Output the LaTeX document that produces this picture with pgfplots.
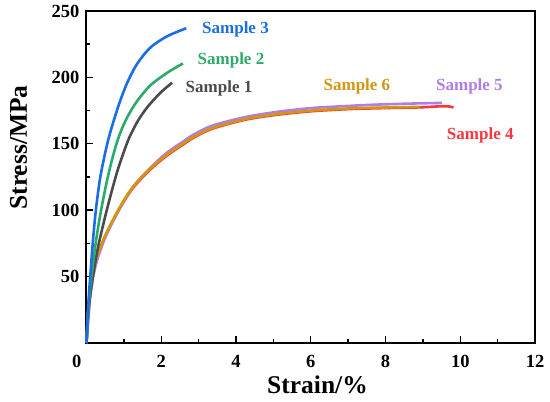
\documentclass[border=0pt]{standalone}
\usepackage{fontspec}
\setmainfont{Liberation Serif}
\usepackage{pgfplots}
\pgfplotsset{compat=1.18}
\definecolor{cblue}{RGB}{25,110,225}
\definecolor{cgreen}{RGB}{45,170,105}
\definecolor{cgray}{RGB}{75,75,75}
\definecolor{cred}{RGB}{245,55,65}
\definecolor{cpurple}{RGB}{175,125,230}
\definecolor{corange}{RGB}{210,150,15}
\newcommand{\mytickfnt}{\fontsize{18.5bp}{21bp}\selectfont\bfseries}
\newcommand{\mylabfnt}{\fontsize{25.5bp}{30bp}\selectfont\bfseries}
\newcommand{\mysmpfnt}{\fontsize{17bp}{20bp}\selectfont\bfseries}
\begin{document}
\begin{tikzpicture}
\path[use as bounding box] (-86.5bp,-59bp) rectangle (463.5bp,343bp);
\begin{axis}[
  scale only axis,
  width=448.5bp, height=332bp,
  xmin=0, xmax=12, ymin=0, ymax=250,
  axis line style={line width=2bp},
  xtick={0,2,4,6,8,10,12},
  xticklabels={,2,4,6,8,10,12},
  ytick={50,100,150,200,250},
  yticklabels={50,100,150,200,250},
  minor xtick={1,3,5,7,9,11},
  minor ytick={25,75,125,175,225},
  tick align=inside,
  xtick pos=bottom, ytick pos=left,
  major tick length=7bp, minor tick length=3.5bp,
  every tick/.style={black, line width=1.4bp},
  xticklabel style={font=\mytickfnt, anchor=base, inner sep=0pt, yshift=-24bp},
  yticklabel style={font=\mytickfnt, anchor=east, inner sep=0pt, xshift=-7bp},
  clip=false,
]
% Sample 4 (red)
\addplot[cred, line width=2.6bp, smooth] coordinates {
(0,0) (0.02,11) (0.04,21) (0.07,31) (0.12,43) (0.2,55) (0.29,64.5) (0.38,71.5) (0.51,80.5) (0.74,93.5) (1.01,107) (1.28,118) (1.72,131) (2.17,141.5) (2.56,149) (2.88,154.8) (3.38,161.5) (4.28,168.3) (5.17,172.1) (6.06,174.6) (7.0,176.1) (7.57,176.6) (8.3,177.1) (8.91,177.4) (9.3,178) (9.55,178.3) (9.7,178.1) (9.82,177.4)
};
% Sample 5 (purple)
\addplot[cpurple, line width=2.6bp, smooth] coordinates {
(0,0) (0.03,10) (0.06,22) (0.1,35) (0.18,50) (0.28,62) (0.4,72) (0.55,83) (0.78,96) (1.0,107) (1.27,118.5) (1.71,132) (2.16,143.5) (2.55,151) (2.87,157) (3.38,163.8) (4.28,170.3) (5.17,174.3) (6.06,177) (7.0,178.5) (7.57,179.3) (8.3,180) (9.0,180.5) (9.51,180.8)
};
% Sample 6 (orange)
\addplot[corange, line width=2.6bp, smooth] coordinates {
(0,0) (0.02,12) (0.04,22) (0.07,32) (0.11,43) (0.19,55) (0.28,65) (0.37,72) (0.5,81) (0.73,94) (1.0,107.5) (1.27,118.5) (1.71,131.5) (2.16,142) (2.55,149.5) (2.87,155.3) (3.38,162) (4.28,168.8) (5.17,172.6) (6.06,175.1) (7.0,176.6) (7.57,177.1) (8.3,177.5) (8.91,177.8)
};
% Sample 1 (gray)
\addplot[cgray, line width=2.6bp, smooth] coordinates {
(0,0) (0.02,10) (0.05,22) (0.1,36) (0.2,55) (0.33,75) (0.56,102) (0.8,127) (1.0,144) (1.15,155) (1.38,167.5) (1.64,178) (1.98,188.5) (2.29,196)
};
% Sample 2 (green)
\addplot[cgreen, line width=2.6bp, smooth] coordinates {
(0,0) (0.02,12) (0.05,26) (0.1,42) (0.15,54) (0.25,76) (0.39,100) (0.57,125) (0.75,145) (0.9,158) (1.09,170) (1.35,182) (1.71,194) (2.16,203.5) (2.58,210.5)
};
% Sample 3 (blue)
\addplot[cblue, line width=2.6bp, smooth] coordinates {
(0,0) (0.02,14) (0.05,30) (0.1,50) (0.17,76) (0.25,100) (0.37,125) (0.53,147) (0.65,160) (0.78,172) (0.91,183) (1.09,196) (1.35,210) (1.71,222.5) (2.16,231) (2.67,237)
};
\node[font=\mysmpfnt, text=cblue, anchor=base west, inner sep=0pt] at (axis cs:3.09,233.2) {Sample 3};
\node[font=\mysmpfnt, text=cgreen, anchor=base west, inner sep=0pt] at (axis cs:2.97,209.7) {Sample 2};
\node[font=\mysmpfnt, text=cgray, anchor=base west, inner sep=0pt] at (axis cs:2.65,188.6) {Sample 1};
\node[font=\mysmpfnt, text=corange, anchor=base west, inner sep=0pt] at (axis cs:6.34,190.5) {Sample 6};
\node[font=\mysmpfnt, text=cpurple, anchor=base west, inner sep=0pt] at (axis cs:9.35,190.5) {Sample 5};
\node[font=\mysmpfnt, text=cred, anchor=base west, inner sep=0pt] at (axis cs:9.64,153.3) {Sample 4};
\node[font=\mytickfnt, anchor=base, inner sep=0pt] at (rel axis cs:-0.0219,-0.0723) {0};
\node[font=\mylabfnt, anchor=base, inner sep=0pt] at (rel axis cs:0.515,-0.1515) {Strain/\%};
\node[font=\mylabfnt, anchor=base, inner sep=0pt, rotate=90] at (rel axis cs:-0.1327,0.589) {Stress/MPa};
\end{axis}
\end{tikzpicture}
\end{document}
